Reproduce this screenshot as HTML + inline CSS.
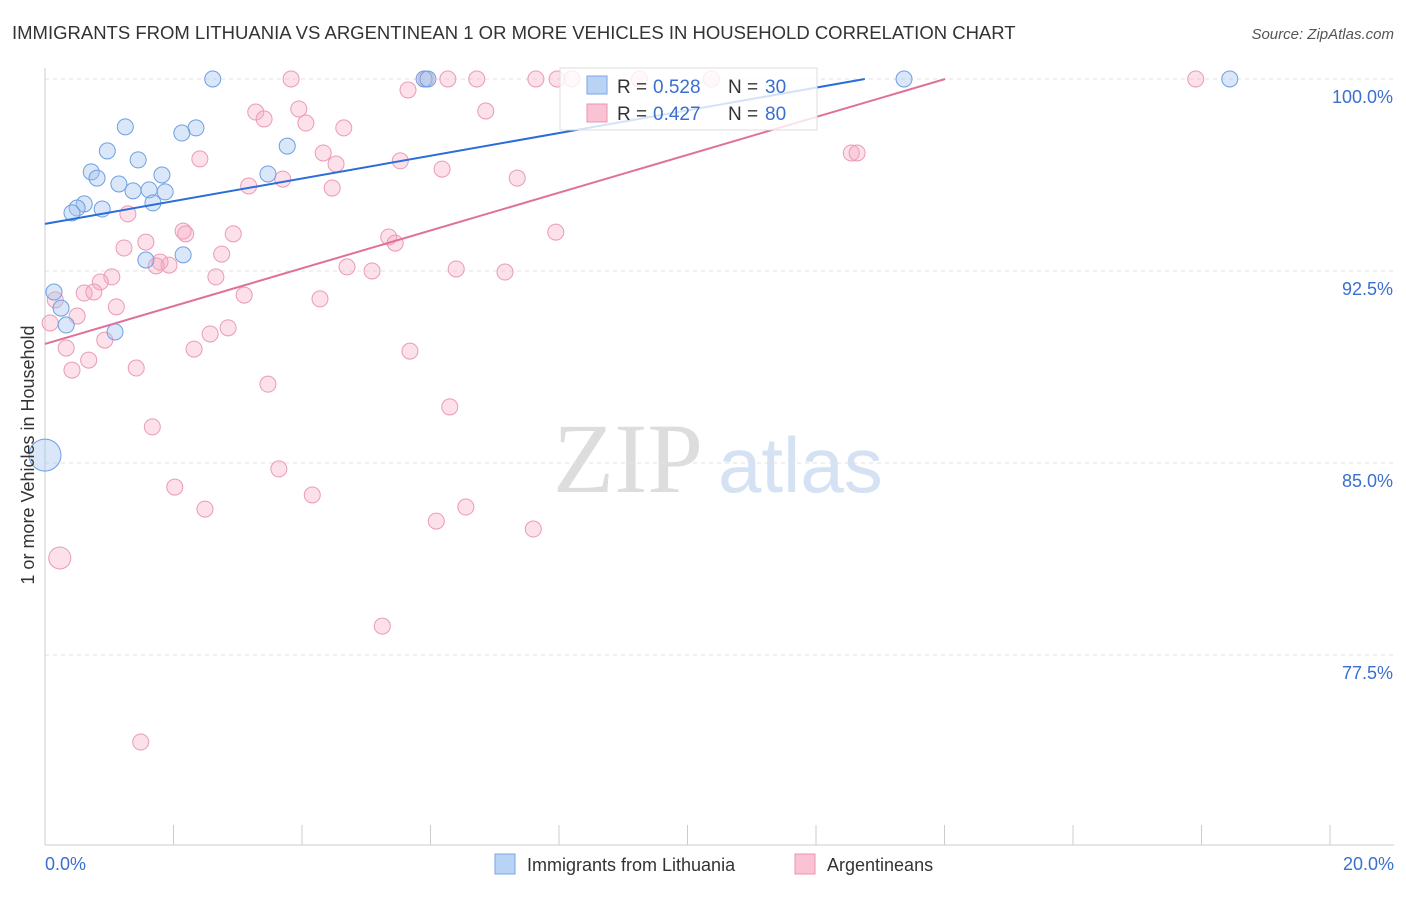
<!DOCTYPE html>
<html><head><meta charset="utf-8"><style>
body{margin:0;background:#fff;font-family:"Liberation Sans",sans-serif;}
svg text{font-family:"Liberation Sans",sans-serif;}
</style></head><body>
<svg id="c" width="1406" height="892">
<text x="12" y="39" font-size="18.5" fill="#333">IMMIGRANTS FROM LITHUANIA VS ARGENTINEAN 1 OR MORE VEHICLES IN HOUSEHOLD CORRELATION CHART</text>
<text x="1394" y="39" font-size="15" fill="#555" text-anchor="end" font-style="italic">Source: ZipAtlas.com</text>
<text x="553" y="492" font-size="100" fill="#ddd" style="font-family:'Liberation Serif',serif">ZIP</text>
<text x="718" y="492" font-size="78" fill="#d4e2f4">atlas</text>
<g id="grid"></g><g id="axes"></g><g id="pts"></g><g id="lines"></g>
<text transform="translate(34,455) rotate(-90)" font-size="18" fill="#333" text-anchor="middle">1 or more Vehicles in Household</text>
<g>
<rect x="560" y="68" width="257" height="62" fill="rgba(255,255,255,0.8)" stroke="#ddd"/>
<rect x="587" y="76" width="20" height="18" fill="#b9d3f5" stroke="#7aa6e6"/>
<rect x="587" y="104" width="20" height="18" fill="#f9c3d3" stroke="#ec93b0"/>
<text x="617" y="93" font-size="19" fill="#333">R =</text>
<text x="653" y="93" font-size="19" fill="#3a6fd0">0.528</text>
<text x="728" y="93" font-size="19" fill="#333">N =</text>
<text x="765" y="93" font-size="19" fill="#3a6fd0">30</text>
<text x="617" y="120" font-size="19" fill="#333">R =</text>
<text x="653" y="120" font-size="19" fill="#3a6fd0">0.427</text>
<text x="728" y="120" font-size="19" fill="#333">N =</text>
<text x="765" y="120" font-size="19" fill="#3a6fd0">80</text>
</g>
<g>
<rect x="495" y="854" width="20" height="20" fill="#b9d3f5" stroke="#7aa6e6"/>
<text x="527" y="871" font-size="18" fill="#333">Immigrants from Lithuania</text>
<rect x="795" y="854" width="20" height="20" fill="#f9c3d3" stroke="#ec93b0"/>
<text x="827" y="871" font-size="18" fill="#333">Argentineans</text>
</g>
</svg>
<script>
const yTicks=[100,92.5,85,77.5];
const yTickLabels=["100.0%","92.5%","85.0%","77.5%"];
const xTickLabels=["0.0%","20.0%"];
const blueX=[2.61,5.90,5.96,13.37,18.44,1.25,2.35,2.13,3.77,0.97,1.45,0.72,0.81,1.82,3.47,1.15,1.37,1.62,1.87,1.68,0.61,0.50,0.42,0.89,1.57,2.15,0.14,0.25,0.33,1.09,0.0];
const blueY=[100,100,100,100,100,98.13,98.09,97.89,97.38,97.19,96.84,96.37,96.13,96.25,96.29,95.90,95.63,95.67,95.59,95.16,95.12,94.96,94.77,94.92,92.93,93.13,91.68,91.05,90.39,90.12,85.31];
const blueR=[8,8,8,8,8,8,8,8,8,8,8,8,8,8,8,8,8,8,8,8,8,8,8,8,8,8,8,8,8,8,16];
const pinkX=[3.83,5.93,6.27,6.72,7.64,7.97,8.20,9.25,10.37,17.91,5.65,3.28,3.95,6.86,3.41,4.06,4.65,4.33,4.53,5.53,2.41,3.70,6.18,7.35,12.55,12.64,3.17,4.47,1.29,2.15,2.19,2.93,5.35,5.45,7.95,1.23,1.57,2.75,1.79,1.93,1.73,4.70,5.09,6.40,7.16,2.66,1.04,0.86,0.61,0.76,3.10,4.28,1.11,0.16,0.50,0.08,2.85,2.57,0.93,0.33,2.32,0.68,5.68,0.42,1.42,3.47,6.30,1.67,3.64,2.02,4.16,2.49,6.09,6.55,7.60,0.23,5.25,1.49];
const pinkY=[100,100,100,100,100,100,100,100,100,100,99.57,98.71,98.83,98.75,98.44,98.28,98.09,97.11,96.68,96.80,96.88,96.09,96.48,96.13,97.11,97.11,95.82,95.74,94.73,94.06,93.95,93.95,93.83,93.59,94.02,93.40,93.63,93.16,92.85,92.73,92.70,92.66,92.50,92.58,92.46,92.27,92.27,92.07,91.64,91.68,91.56,91.41,91.10,91.37,90.74,90.47,90.28,90.04,89.80,89.49,89.45,89.02,89.37,88.63,88.71,88.08,87.19,86.41,84.77,84.06,83.75,83.20,82.73,83.28,82.42,81.29,78.63,74.10];
const blueLine=[[0,94.34],[12.76,100]];
const pinkLine=[[0,89.65],[14.01,100]];
const NS="http://www.w3.org/2000/svg";
const X0=45,X1=1330,Y100=79,PXY=25.6;
const sx=v=>X0+(X1-X0)*v/20;
const sy=v=>Y100+(100-v)*PXY;
function mk(t,a,p){const e=document.createElementNS(NS,t);for(const k in a)e.setAttribute(k,a[k]);document.getElementById(p).appendChild(e);return e;}
yTicks.forEach((t,i)=>{
 const g=mk('line',{x1:45,x2:1394,y1:sy(t),y2:sy(t),stroke:'#e2e2e2','stroke-dasharray':'4,4'},'grid');
 
 
 const tx=mk('text',{x:1393,y:sy(t)+24,'font-size':18,fill:'#3a6fd0','text-anchor':'end'},'grid');
 tx.textContent=yTickLabels[i];
 
 
});
const ax=mk('line',{x1:45,x2:45,y1:68,y2:845,stroke:'#ccc'},'axes');


const bx=mk('line',{x1:45,x2:1394,y1:845,y2:845,stroke:'#ccc'},'axes');


for(let i=0;i<=10;i++){
 const t=mk('line',{x1:sx(i*2),x2:sx(i*2),y1:825,y2:845,stroke:'#ccc'},'axes');
 
 
}
[[0,'start',45],[20,'end',1394]].forEach((d,i)=>{
 const t=mk('text',{x:d[2],y:870,'font-size':18,fill:'#3a6fd0','text-anchor':d[1]},'axes');
 t.textContent=xTickLabels[i];
 
 
});
pinkX.forEach((v,i)=>{
 const c=mk('circle',{cx:sx(v),cy:sy(pinkY[i]),r:i==75?11:8,fill:'rgba(245,170,195,0.35)',stroke:'#eb9ab5','stroke-width':1},'pts');
 
 
});
blueX.forEach((v,i)=>{
 const c=mk('circle',{cx:sx(v),cy:sy(blueY[i]),r:blueR[i],fill:'rgba(160,195,240,0.4)',stroke:'#6f9ee2','stroke-width':1},'pts');
 
 
});
const l1=mk('line',{x1:sx(blueLine[0][0]),y1:sy(blueLine[0][1]),x2:sx(blueLine[1][0]),y2:sy(blueLine[1][1]),stroke:'#2a6dd9','stroke-width':2},'lines');


const l2=mk('line',{x1:sx(pinkLine[0][0]),y1:sy(pinkLine[0][1]),x2:sx(pinkLine[1][0]),y2:sy(pinkLine[1][1]),stroke:'#e0709a','stroke-width':2},'lines');


</script>
</body></html>
